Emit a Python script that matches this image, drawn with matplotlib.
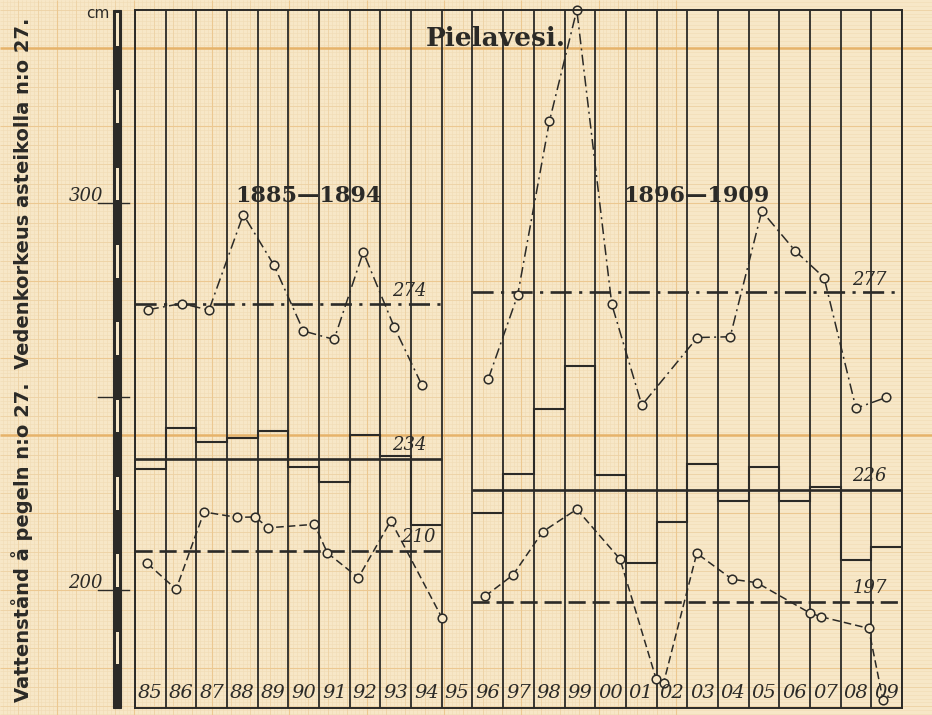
# Pielavesi water levels 1885-1909 (max / mean / min per year)
import numpy as np
import matplotlib.pyplot as plt
from matplotlib import transforms
from matplotlib.patches import Rectangle
from matplotlib.collections import LineCollection

# year labels for each column (95 has no data)
years = ['85', '86', '87', '88', '89', '90', '91', '92', '93', '94', '95',
         '96', '97', '98', '99', '00', '01', '02', '03', '04', '05', '06', '07', '08', '09']

# yearly maxima (x = position inside the year column, date of maximum)
max1_x = [0.43, 1.52, 2.41, 3.53, 4.53, 5.49, 6.49, 7.44, 8.45, 9.35]
max1_v = [272.5, 274.1, 272.4, 297.1, 284.0, 267.0, 264.8, 287.4, 268.0, 253.0]
max2_x = [11.52, 12.47, 13.51, 14.40, 15.54, 16.52, 18.33, 19.40, 20.43, 21.52, 22.46, 23.50, 24.48]
max2_v = [254.7, 276.2, 321.3, 350.0, 273.9, 247.8, 265.3, 265.5, 298.0, 287.7, 280.8, 247.0, 249.8]

# yearly means (steps)
mean1 = [231.2, 241.8, 238.2, 239.4, 241.2, 231.9, 228.0, 240.2, 234.7, 216.8]
mean2 = [219.8, 230.0, 246.7, 257.9, 229.7, 207.0, 217.6, 232.7, 223.1, 231.7, 223.1, 226.7, 207.8, 211.2]

# yearly minima
min1_x = [0.40, 1.34, 2.25, 3.32, 3.91, 4.35, 5.85, 6.27, 7.28, 8.34, 10.0]
min1_v = [206.9, 200.2, 220.2, 218.8, 218.9, 216.1, 217.0, 209.6, 203.2, 217.9, 192.9]
min2_x = [11.41, 12.32, 13.29, 14.40, 15.81, 16.99, 17.23, 18.31, 19.46, 20.27, 21.99, 22.36, 23.91, 24.38]
min2_v = [198.4, 203.9, 215.1, 220.9, 208.0, 176.9, 176.0, 209.5, 202.8, 201.9, 194.1, 193.1, 190.1, 171.6]

# period averages
periods = [(0, 10), (11, 25)]
avg_max = [274, 277]
avg_mean = [234, 226]
avg_min = [210, 197]
period_titles = ['1885—1894', '1896—1909']

yticks = [200, 250, 300]
yticklabels = ['200', '', '300']

paper = '#f7e7c7'
ink = '#2b2a27'

fig = plt.figure(figsize=(9.32, 7.15), dpi=100)
fig.patch.set_facecolor(paper)

# graph paper background (pixel coordinates)
bg = fig.add_axes([0, 0, 1, 1])
bg.set_xlim(0, 932)
bg.set_ylim(715, 0)
bg.axis('off')
mm = 3.87
fine, half, twocm, big = [], [], [], []
for k in range(-120, 121):
    y = 435.4 + k * mm
    if -2 <= y <= 717:
        seg = [(0, y), (932, y)]
        if k % 100 == 0:
            big.append(seg)
        elif k % 20 == 0:
            twocm.append(seg)
        elif k % 5 == 0:
            half.append(seg)
        else:
            fine.append(seg)
    x = 211.7 + k * mm
    if -2 <= x <= 934:
        seg = [(x, 0), (x, 715)]
        if k % 20 == 0:
            twocm.append(seg)
        elif k % 5 == 0:
            half.append(seg)
        else:
            fine.append(seg)
bg.add_collection(LineCollection(fine, colors='#f0dbb5', linewidths=0.4))
bg.add_collection(LineCollection(half, colors='#edd1a3', linewidths=0.6))
bg.add_collection(LineCollection(twocm, colors='#ecc891', linewidths=0.8))
bg.add_collection(LineCollection(big, colors='#e6b36a', linewidths=1.8))

# main chart
ax = fig.add_axes([135 / 932, 7 / 715, 767 / 932, 698 / 715])
ax.set_facecolor('none')
ax.set_xlim(0, 25)
ax.set_ylim(169.5, 350)
ax.set_xticks([])
ax.set_yticks([])
for s in ax.spines.values():
    s.set_color(ink)
    s.set_linewidth(1.4)

for i in range(26):
    ax.axvline(i, color=ink, lw=1.3)

dashdot_lvl = (0, (8, 2.8, 1.2, 2.8))
dash_lvl = (0, (6.5, 2.6))
for (a, b), hi, mid, lo in zip(periods, avg_max, avg_mean, avg_min):
    ax.hlines(hi, a, b, colors=ink, lw=1.9, linestyles=[dashdot_lvl])
    ax.hlines(mid, a, b, colors=ink, lw=1.9)
    ax.hlines(lo, a, b, colors=ink, lw=1.9, linestyles=[dash_lvl])
    for val, dy in ((hi, 3.3), (mid, 3.4), (lo, 3.6)):
        ax.text(b - 1.05 + (0.3 if val == 210 else 0), val + dy, str(val),
                ha='center', va='center', fontsize=13, style='italic',
                family='DejaVu Serif', color=ink)

ax.stairs(mean1, np.arange(0, 11), baseline=None, color=ink, lw=1.5)
ax.stairs(mean2, np.arange(11, 26), baseline=None, color=ink, lw=1.5)

mk = dict(marker='o', ms=6.2, mfc=paper, mec=ink, mew=1.1, color=ink, lw=1.1, clip_on=False)
for xs, vs in ((max1_x, max1_v), (max2_x, max2_v)):
    ax.plot(xs, vs, ls=(0, (7, 2.8, 1.3, 2.8)), **mk)
for xs, vs in ((min1_x, min1_v), (min2_x, min2_v)):
    ax.plot(xs, vs, ls=(0, (5, 2.6)), **mk)

# year labels inside bottom of columns
xtr = transforms.blended_transform_factory(ax.transData, ax.transAxes)
for i, yr in enumerate(years):
    ax.text(i + 0.5, 0.022, yr, transform=xtr, ha='center', va='center',
            fontsize=14, style='italic', family='DejaVu Serif', color=ink)

ax.text(11.77, 342.6, 'Pielavesi.', ha='center', va='center', fontsize=19,
        fontweight='bold', family='DejaVu Serif', color=ink)
for t, xc in zip(period_titles, [5.64, 18.29]):
    ax.text(xc, 302, t, ha='center', va='center', fontsize=16,
            fontweight='bold', family='DejaVu Serif', color=ink)

# ruler on the left: black bar, every other 10 cm with a thin light stripe
ytr = transforms.blended_transform_factory(ax.transAxes, ax.transData)
fx = lambda px: (px - 135) / 767
x0, x1 = fx(113), fx(121)
ax.add_patch(Rectangle((x0, 169.5), x1 - x0, 350 - 169.5, transform=ytr, clip_on=False,
                       facecolor=ink, edgecolor=ink, lw=0.8))
for v in range(180, 350, 20):
    ax.add_patch(Rectangle((fx(116), v + 0.8), fx(118.5) - fx(116), 8.4, transform=ytr,
                           clip_on=False, facecolor=paper, edgecolor='none'))
for v, lab in zip(yticks, yticklabels):
    ax.plot([fx(98), fx(129)], [v, v], transform=ytr, color=ink, lw=1.0, clip_on=False)
    if lab:
        ax.text(fx(103), v + 0.6, lab, transform=ytr, ha='right', va='baseline',
                fontsize=13, style='italic', family='DejaVu Serif', color=ink)
fig.text(98 / 932, 1 - 14 / 715, 'cm', ha='center', va='center', fontsize=11,
         family='DejaVu Sans', color=ink)

fig.text(22 / 932, 1 - 360 / 715,
         'Vattenstånd å pegeln n:o 27.  Vedenkorkeus asteikolla n:o 27.',
         rotation=90, ha='center', va='center', fontsize=14, fontweight='bold',
         family='DejaVu Sans', color=ink)

fig.savefig('out.png', dpi=100, facecolor=paper)
